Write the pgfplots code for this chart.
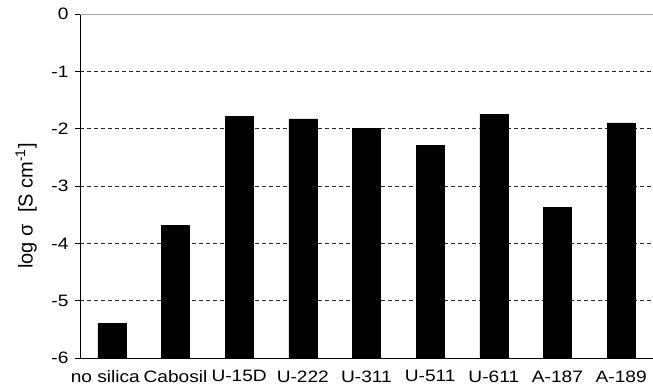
\documentclass[border=0pt]{standalone}
\usepackage{pgfplots}
\pgfplotsset{compat=1.18}
\usepackage{fontspec}
\setmainfont[FakeStretch=1.16]{Liberation Sans}
\newfontfamily\labelfont{Liberation Sans}

\begin{document}
\begin{tikzpicture}
\begin{axis}[
  scale only axis, width=573pt, height=344pt,
  xmin=-0.5, xmax=8.5, ymin=-6, ymax=0,
  % bars rise from the bottom of the axis (log sigma = -6)
  y coord trafo/.code={\pgfmathparse{#1+6}},
  y coord inv trafo/.code={\pgfmathparse{#1-6}},
  axis lines=left, axis line style={-, black, line width=0.8pt},
  ytick={-6,-5,-4,-3,-2,-1,0},
  yticklabels={-6,-5,-4,-3,-2,-1,0},
  xtick={0,...,8},
  xticklabels={\hspace*{-13pt}no silica,Cabosil,U-15D,U-222,U-311,U-511,U-611,A-187,A-189},
  x tick style={draw=none},
  minor xtick={-0.5,0.5,...,8.5},
  minor x tick style={black, line width=0.8pt},
  y tick style={black, line width=0.8pt},
  major tick length=5pt, minor tick length=5pt,
  tick align=outside,
  ymajorgrids,
  grid style={black!85, line width=0.8pt, dash pattern=on 4pt off 3pt},
  tick label style={font=\fontsize{16.5}{19}\selectfont},
  yticklabel style={xshift=-3pt},
  xticklabel style={yshift=-4pt},
  ylabel={\labelfont\fontsize{20}{24}\selectfont log σ\ \ [S cm\textsuperscript{-1}]},
  ylabel style={at={(rel axis cs:0,0.442)}, anchor=south, inner sep=0pt, yshift=43pt},
  ybar, bar width=28pt,
]
\addplot[fill=black, draw=black] coordinates {
  (0,-5.39) (1,-3.69) (2,-1.79) (3,-1.83) (4,-2.00)
  (5,-2.29) (6,-1.75) (7,-3.37) (8,-1.90)
};
\draw[gray!70, line width=1pt] (rel axis cs:0,1) -- (rel axis cs:1,1);
\end{axis}
\pgfresetboundingbox
\path[use as bounding box] (-80pt,-32pt) rectangle (573pt,358pt);
\end{tikzpicture}
\end{document}
